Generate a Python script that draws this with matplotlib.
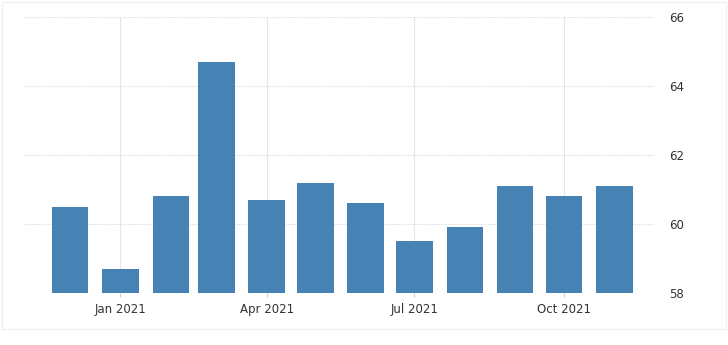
import matplotlib
matplotlib.use("Agg")
import matplotlib.pyplot as plt
import matplotlib.patches as mpatches
import pandas as pd

# monthly values, Dec 2020 - Nov 2021
months = pd.date_range("2020-12-01", "2021-11-01", freq="MS")
values = [60.5, 58.7, 60.8, 64.7, 60.7, 61.2, 60.6, 59.5, 59.9, 61.1, 60.8, 61.1]
y_ticks = [58, 60, 62, 64, 66]
x_ticks = pd.to_datetime(["2021-01-01", "2021-04-01", "2021-07-01", "2021-10-01"])
x_labels = ["Jan 2021", "Apr 2021", "Jul 2021", "Oct 2021"]

fig = plt.figure(figsize=(7.28, 3.45), dpi=100)
fig.patch.set_facecolor("white")
# faint outer frame like the source screenshot
fig.patches.append(mpatches.Rectangle((0.003, 0.045), 0.994, 0.95, transform=fig.transFigure,
                                      fill=False, edgecolor="#f0f0f0", linewidth=1))

ax = fig.add_axes([0.0316, 0.1507, 0.868, 0.80])
ax.bar(months, values, width=22.5, color="#4682b4", zorder=3)

ax.set_ylim(58, 66)
ax.set_yticks(y_ticks)
ax.set_xlim(pd.Timestamp("2020-11-02"), pd.Timestamp("2021-11-26"))
ax.set_xticks(x_ticks)
ax.set_xticklabels(x_labels)

ax.yaxis.tick_right()
ax.tick_params(axis="y", length=0, pad=10, labelsize=8.5, labelcolor="#333333")
ax.tick_params(axis="x", length=3, color="#cccccc", pad=4, labelsize=8.5, labelcolor="#333333")

for s in ax.spines.values():
    s.set_visible(False)

ax.grid(axis="y", color="#dddddd", linestyle=(0, (1, 1)), linewidth=0.8, zorder=0)
ax.grid(axis="x", color="#e6e6e6", linestyle="-", linewidth=0.8, zorder=0)
ax.set_axisbelow(True)

fig.savefig("out.png", dpi=100)
